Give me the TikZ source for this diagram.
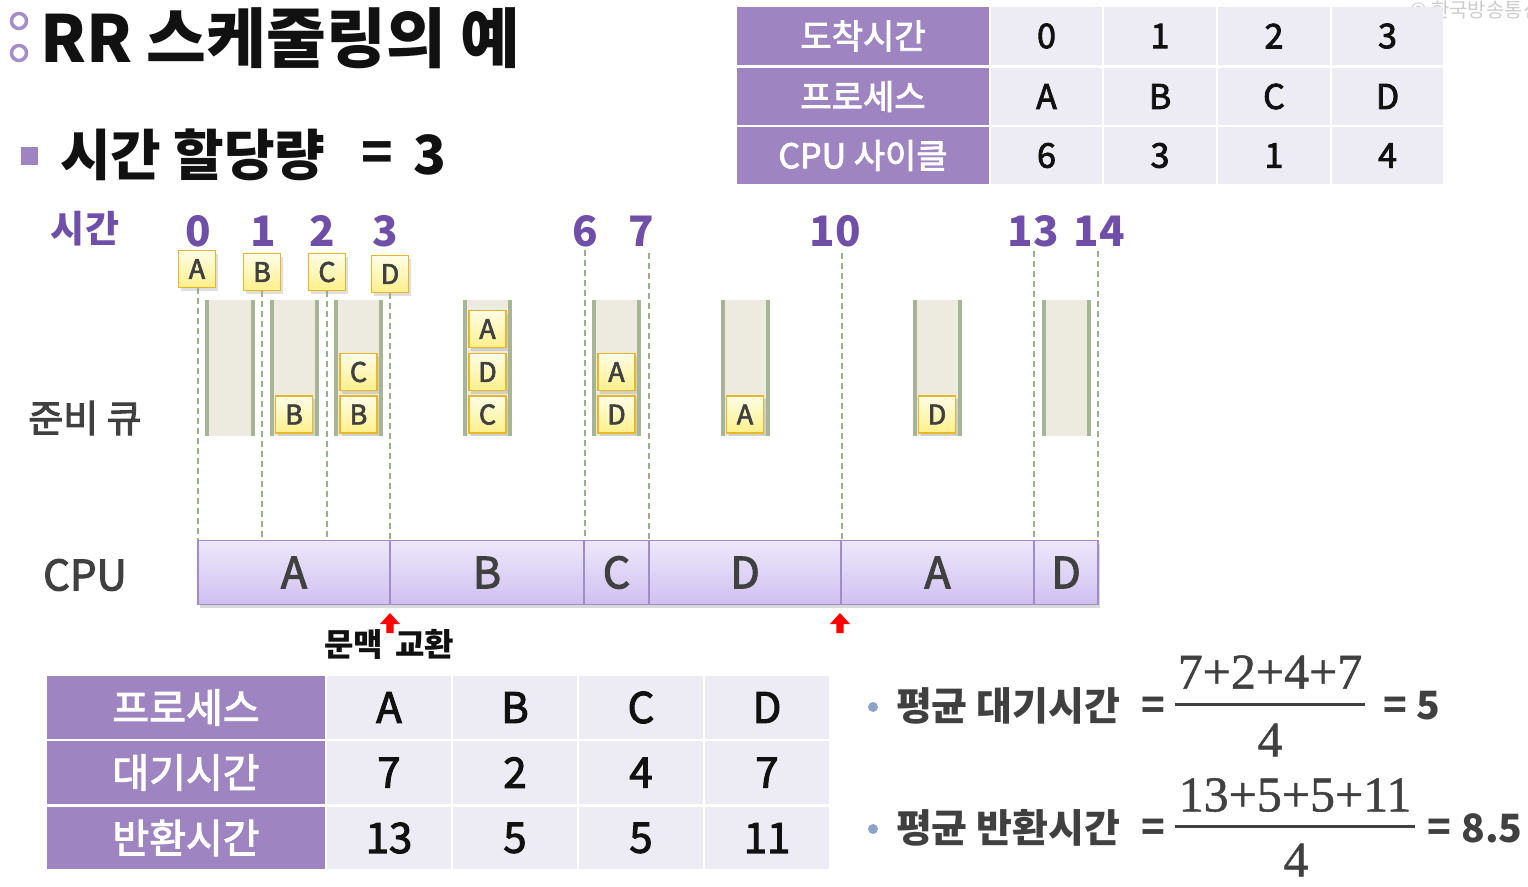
\documentclass[tikz,border=0pt]{standalone}
\usepackage{fontspec}
\setmainfont{Noto Sans CJK KR}
\newfontfamily\medfont[FakeBold=2.5]{Noto Sans CJK KR}
\newfontfamily\serifnum[FakeBold=1]{Liberation Serif}
\usetikzlibrary{shadows}
\definecolor{hdr}{HTML}{9E85C2}
\definecolor{cell}{HTML}{EDEBF3}
\definecolor{tpurple}{HTML}{6F4FA8}
\definecolor{dgray}{HTML}{404040}
\definecolor{qfill}{HTML}{EDEBE0}
\definecolor{qbar}{HTML}{A6B595}
\definecolor{dashc}{HTML}{9DAE8C}
\definecolor{yel1}{HTML}{FFFDE8}
\definecolor{yel2}{HTML}{FFF08A}
\definecolor{yelb}{HTML}{E8B62A}
\definecolor{cpu1}{HTML}{EEE8FB}
\definecolor{cpu2}{HTML}{CFC0F0}
\definecolor{cpub}{HTML}{A08CC8}
\definecolor{bulletp}{HTML}{A38DCB}
\definecolor{bulletb}{HTML}{8DA3CC}
\definecolor{tblack}{HTML}{111111}
\begin{document}
\begin{tikzpicture}[x=1pt,y=-1pt,
  every node/.style={inner sep=0pt,outer sep=0pt},
  hcellT/.style={fill=hdr,text=white,minimum width=252,minimum height=57,font=\medfont\fontsize{34}{34}\selectfont},
  vcellT/.style={fill=cell,text=tblack,minimum height=57,font=\medfont\fontsize{34}{34}\selectfont},
  hcellB/.style={fill=hdr,text=white,minimum width=278,minimum height=63,font=\medfont\fontsize{40}{40}\selectfont},
  vcellB/.style={fill=cell,text=tblack,minimum width=124,minimum height=63,font=\medfont\fontsize{42}{42}\selectfont},
  pbox/.style={draw=yelb,line width=1.8pt,top color=yel1,bottom color=yel2,minimum width=37,minimum height=37,
    font=\medfont\fontsize{27}{27}\selectfont,text=dgray,
    drop shadow={opacity=0.25,shadow xshift=2pt,shadow yshift=-3pt}},
  tickline/.style={draw=dashc,line width=1.6pt,dash pattern=on 6pt off 4pt},
  tnum/.style={text=tpurple,font=\bfseries\fontsize{42}{42}\selectfont},
  cpuseg/.style={draw=cpub,line width=1.6pt,top color=cpu1,bottom color=cpu2,minimum height=64,
    font=\medfont\fontsize{43}{43}\selectfont,text=dgray,anchor=west},
  lab/.style={text=dgray,font=\medfont\fontsize{38}{38}\selectfont},
  ftext/.style={text=dgray,font=\bfseries\fontsize{39}{39}\selectfont},
  fnum/.style={text=dgray,font=\serifnum\fontsize{50}{50}\selectfont}
]
\useasboundingbox (0,0) rectangle (1528,886);
% watermark (cut off at the right edge, as in the reference)
\node[anchor=west,text=gray!40,font=\fontsize{20}{20}\selectfont] (wm) at (1410,10) {© 한국방송통신대학교};
% title
\draw[bulletp,line width=3.5pt] (19,21) circle (7.5);
\draw[bulletp,line width=3.5pt] (19,53) circle (7.5);
\node[anchor=west,text=tblack,font=\bfseries\fontsize{65}{65}\selectfont] (title) at (40,38) {RR 스케줄링의 예};
\fill[hdr] (21,147) rectangle (38,165);
\node[anchor=west,text=tblack,font=\bfseries\fontsize{55}{55}\selectfont] (quant) at (60,155) {시간 할당량};
\node[text=tblack,font=\bfseries\fontsize{52}{52}\selectfont] (qeq) at (377,157) {=};
\node[text=tblack,font=\bfseries\fontsize{54}{54}\selectfont] (qval) at (430,155) {3};
% top table
\node[hcellT,minimum height=58] (th1) at (863,36) {도착시간};
\node[hcellT] (th2) at (863,96.5) {프로세스};
\node[hcellT] (th3) at (863,155.5) {CPU 사이클};
\foreach \xc/\w/\a/\b/\cc [count=\i] in {1046.5/111/0/A/6, 1160/112/1/B/3, 1274/112/2/C/1, 1387.5/111/3/D/4} {
  \node[vcellT,minimum width=\w,minimum height=58] (ta\i) at (\xc,36) {\a};
  \node[vcellT,minimum width=\w] (tb\i) at (\xc,96.5) {\b};
  \node[vcellT,minimum width=\w] (tc\i) at (\xc,155.5) {\cc};
}
% labels
\node[text=tpurple,font=\bfseries\fontsize{37}{37}\selectfont] (tlab) at (85,229) {시간};
\node[lab] (qlab) at (85,418) {준비 큐};
\node[lab,font=\medfont\fontsize{42}{42}\selectfont] (clab) at (85,575) {CPU};
% time numbers
\foreach \x/\t [count=\i] in {198/0, 263/1, 322/2, 385/3, 585/6, 641/7, 835/10, 1033/13, 1099/14} {
  \node[tnum] (n\i) at (\x,231) {\t};
}
% arrival boxes
\node[pbox] (arA) at (197,269) {A};
\node[pbox] (arB) at (262,272) {B};
\node[pbox] (arC) at (327,272) {C};
\node[pbox] (arD) at (390,274) {D};
% tick lines
\foreach \x in {198,262,327,390,585,649,842,1034,1098} { \coordinate (bot\x) at (\x,540); }
\draw[tickline] (arA.south -| bot198) -- (bot198);
\draw[tickline] (arB.south -| bot262) -- (bot262);
\draw[tickline] (arC.south -| bot327) -- (bot327);
\draw[tickline] (arD.south -| bot390) -- (bot390);
\foreach \x/\ys in {585/250, 649/253, 842/253, 1034/251, 1098/251} {
  \coordinate (top\x) at (\x,\ys);
  \draw[tickline] (top\x) -- (bot\x);
}
% ready queue columns
\foreach \xa/\xb in {205/255, 270/319, 334/383, 463/512, 592/641, 721/770, 913/962, 1042/1091} {
  \fill[qfill] (\xa,300) rectangle (\xb,436);
  \fill[qbar] (\xa,300) rectangle (\xa+4,436);
  \fill[qbar] (\xb-4,300) rectangle (\xb,436);
}
% queue items
\node[pbox] (q2a) at (294,414.5) {B};
\node[pbox] (q3a) at (358.5,414.5) {B};
\node[pbox] (q3b) at (358.5,372) {C};
\node[pbox] (q4a) at (487.5,414.5) {C};
\node[pbox] (q4b) at (487.5,372) {D};
\node[pbox] (q4c) at (487.5,329) {A};
\node[pbox] (q5a) at (616.5,414.5) {D};
\node[pbox] (q5b) at (616.5,372) {A};
\node[pbox] (q6a) at (745,414.5) {A};
\node[pbox] (q7a) at (937,414.5) {D};
% CPU bar
\node[fill=white,minimum width=900,minimum height=64,anchor=west,
  drop shadow={opacity=0.3,shadow xshift=2pt,shadow yshift=-3pt}] (cpubg) at (198,572.5) {};
\foreach \xa/\xb/\l [count=\i] in {198/390/A, 390/584/B, 584/649/C, 649/841/D, 841/1034/A, 1034/1098/D} {
  \node[cpuseg,minimum width={\xb-\xa}] (cpu\i) at (\xa,572.5) {\l};
}
% context switch arrows
\foreach \x in {390,840} {
  \fill[red] (\x,613) -- ++(10,11) -- ++(-6.3,0) -- ++(0,9) -- ++(-7.4,0) -- ++(0,-9) -- ++(-6.3,0) -- cycle;
}
\node[text=tblack,font=\bfseries\fontsize{32}{32}\selectfont] (ctx) at (389,644) {문맥\hspace{12pt}교환};
% bottom table
\node[hcellB] (bh1) at (186,707.5) {프로세스};
\node[hcellB] (bh2) at (186,772.5) {대기시간};
\node[hcellB,minimum height=62] (bh3) at (186,838) {반환시간};
\foreach \xc/\a/\b/\cc [count=\i] in {389/A/7/13, 515/B/2/5, 641/C/4/5, 767/D/7/11} {
  \node[vcellB] (ba\i) at (\xc,707.5) {\a};
  \node[vcellB] (bb\i) at (\xc,772.5) {\b};
  \node[vcellB,minimum height=62] (bc\i) at (\xc,838) {\cc};
}
% formulas
\fill[bulletb] (873,707) circle (5);
\node[ftext,anchor=west] (f1) at (896,706) {평균 대기시간};
\node[ftext] (f1eq) at (1153,708) {=};
\coordinate (b1l) at (1175,704);
\coordinate (b1r) at (1365,704);
\draw[dgray,line width=3pt] (b1l) -- (b1r);
\node[fnum] (f1n) at (1270,672) {7+2+4+7};
\node[fnum] (f1d) at (1270,740) {4};
\node[ftext] (f1eq2) at (1395,708) {=};
\node[ftext] (f1r) at (1428,706) {5};
\fill[bulletb] (873,829) circle (5);
\node[ftext,anchor=west] (f2) at (896,828) {평균 반환시간};
\node[ftext] (f2eq) at (1153,830) {=};
\coordinate (b2l) at (1175,826);
\coordinate (b2r) at (1415,826);
\draw[dgray,line width=3pt] (b2l) -- (b2r);
\node[fnum] (f2n) at (1295,795) {13+5+5+11};
\node[fnum] (f2d) at (1296,860) {4};
\node[ftext] (f2eq2) at (1439,830) {=};
\node[ftext] (f2r) at (1492,828) {8.5};
\end{tikzpicture}
\end{document}
